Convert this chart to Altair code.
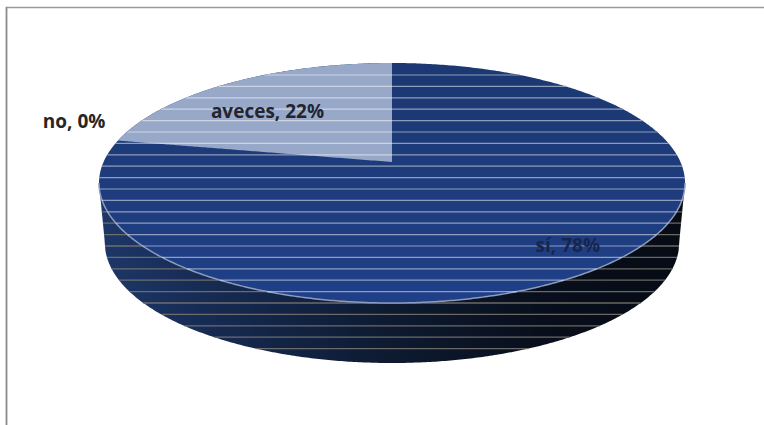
import numpy as np
import pandas as pd
import altair as alt

# Survey answers and their shares (percent)
categories = ["sí", "aveces", "no"]
shares = [78, 22, 0]

# Label anchors in disc units, where the top face spans -1..1 on both axes
label_x = [0.60, -0.425, -1.085]
label_y = [-0.525, 0.592, 0.508]
label_colors = ["#17264a", "#23252f", "#262626"]

DEPTH = 0.5          # wall height of the 3D disc
FOOT = 0.98          # the wall's lower rim is a little narrower than the top face
APEX_Y = 0.175       # the tilted disc's centre point sits above the ellipse middle
STRIPE_TOP = 0.9
STRIPE_STEP = 0.095
STRIPE_COUNT = 25

x_scale = alt.Scale(domain=[-1, 1], range=[99, 685])
y_scale = alt.Scale(domain=[-1, 1], range=[303, 63])
X = alt.X("x:Q", scale=x_scale, axis=None)
Y = alt.Y("y:Q", scale=y_scale, axis=None)
Y2 = alt.Y2("y2:Q")

# Whole disc outline, sampled along x
angles = np.linspace(np.pi, 0, 361)
rim_x = np.cos(angles)
rim_y = np.sin(angles)

face = pd.DataFrame({"x": rim_x, "y": rim_y, "y2": -rim_y})
front = pd.DataFrame({"x": rim_x, "y": -rim_y})

# Wall: from the disc's middle line down to the narrowed lower rim
foot_u = np.clip(np.abs(rim_x) / FOOT, 0, 1)
foot_y = -DEPTH - np.sqrt(1 - foot_u ** 2)
beyond = np.abs(rim_x) > FOOT
foot_y[beyond] = -DEPTH * (1 - (np.abs(rim_x[beyond]) - FOOT) / (1 - FOOT))
wall = pd.DataFrame({"x": rim_x, "y": np.zeros_like(rim_x), "y2": foot_y})

# The "aveces" sector starts at twelve o'clock and turns counter-clockwise
# by its share; its edge is a ray from the apex to the rim.
sweep = shares[1] / 100 * 2 * np.pi
theta = np.pi / 2 + sweep
dx, dy = np.cos(theta), np.sin(theta)
b = APEX_Y * dy
reach = -b + np.sqrt(b * b + 1 - APEX_Y * APEX_Y)
end_x = reach * dx
end_y = APEX_Y + reach * dy

start_angle = np.arctan2(end_y, end_x)
sector_angles = np.linspace(start_angle, np.pi / 2, 121)
sector_x = np.cos(sector_angles)
sector = pd.DataFrame({
    "x": sector_x,
    "y": np.sin(sector_angles),
    "y2": APEX_Y + (end_y - APEX_Y) * sector_x / end_x,
})

# Horizontal scan stripes across the top face and the wall
levels = STRIPE_TOP - STRIPE_STEP * np.arange(STRIPE_COUNT)
face_half = np.sqrt(np.clip(1 - levels ** 2, 0, None))
outline_half = np.where(
    levels >= 0,
    face_half,
    np.where(levels >= -DEPTH, 1 - (1 - FOOT) * (-levels / DEPTH),
             FOOT * np.sqrt(np.clip(1 - (levels + DEPTH) ** 2, 0, None))),
)
stripes_all = pd.DataFrame({"x": -outline_half, "x2": outline_half, "y": levels})
stripes_face = pd.DataFrame({"x": -face_half, "x2": face_half, "y": levels})
stripes_face = stripes_face[stripes_face["x2"] > 0]

labels = pd.DataFrame({
    "x": label_x,
    "y": label_y,
    "text": [f"{c}, {s}%" for c, s in zip(categories, shares)],
    "color": label_colors,
})

wall_layer = alt.Chart(wall).mark_area(
    color=alt.Gradient(
        gradient="linear", x1=0, x2=1, y1=0, y2=0,
        stops=[
            alt.GradientStop(color="#1d3768", offset=0),
            alt.GradientStop(color="#14274c", offset=0.25),
            alt.GradientStop(color="#0d1a30", offset=0.5),
            alt.GradientStop(color="#080f1c", offset=0.75),
            alt.GradientStop(color="#060b14", offset=1),
        ],
    ),
).encode(x=X, y=Y, y2=Y2)

wall_stripes = alt.Chart(stripes_all).mark_rule(
    color="#7d7873", opacity=0.85, strokeWidth=1.3
).encode(x=X, x2=alt.X2("x2:Q"), y=Y)

face_layer = alt.Chart(face).mark_area(
    color=alt.Gradient(
        gradient="linear", x1=0, x2=0, y1=0, y2=1,
        stops=[
            alt.GradientStop(color="#1b3872", offset=0),
            alt.GradientStop(color="#1e3c7c", offset=0.5),
            alt.GradientStop(color="#1f3f88", offset=1),
        ],
    ),
).encode(x=X, y=Y, y2=Y2)
sector_layer = alt.Chart(sector).mark_area(color="#98a8c9").encode(x=X, y=Y, y2=Y2)

front_edge = alt.Chart(front).mark_line(color="#8c9cbc", strokeWidth=1.5).encode(x=X, y=Y)

face_stripes = alt.Chart(stripes_face).mark_rule(
    color="#ffffff", opacity=0.5, strokeWidth=1.2
).encode(x=X, x2=alt.X2("x2:Q"), y=Y)

text_layer = alt.Chart(labels).mark_text(
    font="Open Sans", fontWeight="bold", fontSize=19, align="center", baseline="middle"
).encode(
    x=alt.X("x:Q", scale=x_scale, axis=None),
    y=alt.Y("y:Q", scale=y_scale, axis=None),
    text="text:N",
    color=alt.Color("color:N", scale=None),
)

# Chart frame: only the top and left lines are visible
frame_top = alt.Chart(pd.DataFrame({"k": [0]})).mark_rule(
    color="#9a9a9a", strokeWidth=1.5
).encode(x=alt.value(6), x2=alt.value(764), y=alt.value(7.5))
frame_left = alt.Chart(pd.DataFrame({"k": [0]})).mark_rule(
    color="#8a8a8a", strokeWidth=1.8
).encode(x=alt.value(6.5), y=alt.value(7), y2=alt.value(425))

chart = alt.layer(
    frame_top, frame_left,
    wall_layer, wall_stripes,
    face_layer, sector_layer, front_edge, face_stripes,
    text_layer,
).properties(
    width=764, height=425, padding=0,
    autosize=alt.AutoSizeParams(type="none"),
    background="#ffffff",
).configure_view(stroke=None)

chart.save("out.html", embed_options={"renderer": "svg", "actions": False})
